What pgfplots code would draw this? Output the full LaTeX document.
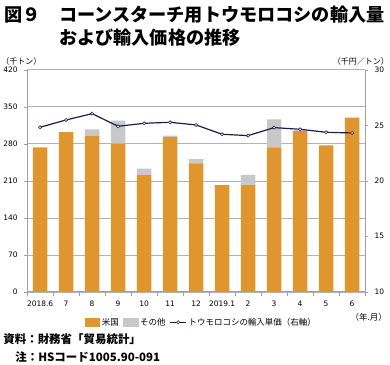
\documentclass[border=0pt]{standalone}
\usepackage{pgfplots}
\pgfplotsset{compat=1.18}
\usepackage{fontspec}
\setmainfont{Noto Sans CJK JP}
\newfontfamily\numfont{DejaVu Sans}
\definecolor{usor}{HTML}{E0962E}
\definecolor{othg}{HTML}{C8C8CA}
\definecolor{lnav}{HTML}{1E1E45}
\definecolor{axg}{HTML}{A0A0A0}
\begin{document}
\begin{tikzpicture}
\path (0pt,0pt) rectangle (390pt,366pt);
\node[anchor=west,inner sep=0pt,font=\fontsize{18.2}{18}\selectfont\bfseries] at (3pt,351pt) {図９};
\node[anchor=west,inner sep=0pt,font=\fontsize{18.2}{18}\selectfont\bfseries] at (58pt,351pt) {コーンスターチ用トウモロコシの輸入量};
\node[anchor=west,inner sep=0pt,font=\fontsize{18.2}{18}\selectfont\bfseries] at (58pt,328pt) {および輸入価格の推移};
\node[anchor=west,font=\fontsize{8}{8}\selectfont,inner sep=0pt] at (0pt,304pt) {（千トン）};
\node[anchor=east,font=\fontsize{8}{8}\selectfont,inner sep=0pt] at (389pt,304pt) {（千円／トン）};
\node[anchor=east,font=\fontsize{8.5}{8}\selectfont,inner sep=0pt] at (387pt,48pt) {（年.月）};
\node[anchor=west,font=\fontsize{11.5}{12}\selectfont\bfseries,inner sep=0pt] at (2pt,26pt) {資料：財務省「貿易統計」};
\node[anchor=west,font=\fontsize{11.5}{12}\selectfont\bfseries,inner sep=0pt] at (14pt,8pt) {注：HSコード1005.90-091};
\begin{axis}[
  at={(26pt,73.3pt)}, anchor=south west,
  scale only axis, width=339pt, height=222.7pt,
  xmin=-0.5, xmax=12.5, ymin=0, ymax=420,
  ytick={0,70,140,210,280,350,420},
  xtick={0,...,12},
  xticklabels={2018.6,7,8,9,10,11,12,2019.1,2,3,4,5,6},
  major x tick style={draw=none},
  minor xtick={-0.5,0.5,...,12.5},
  minor x tick style={draw=axg},
  minor tick length=4pt,
  axis x line*=bottom, axis y line*=left,
  axis line style={draw=axg, line width=0.8pt, -},
  y tick style={draw=axg},
  tick align=outside, major tick length=3pt,
  ymajorgrids, grid style={draw=axg!80, line width=0.6pt},
  ybar stacked, bar width=14.7pt,
  ticklabel style={font=\numfont\fontsize{7.5}{8}\selectfont},
  xticklabel style={yshift=-3pt},
  yticklabel style={xshift=-3pt},
  /pgf/number format/assume math mode=true,
]
\addplot[fill=usor, draw=none] coordinates {(0,273) (1,302) (2,295.6) (3,280.5) (4,220.7) (5,292.5) (6,243) (7,202) (8,202) (9,273) (10,304) (11,277) (12,329.6)};
\addplot[fill=othg, draw=none] coordinates {(0,0) (1,0) (2,11.9) (3,43.5) (4,12.3) (5,3.1) (6,8) (7,0) (8,19) (9,53) (10,1.5) (11,0) (12,0)};
\end{axis}
\begin{axis}[
  at={(26pt,73.3pt)}, anchor=south west,
  scale only axis, width=339pt, height=222.7pt,
  xmin=-0.5, xmax=12.5, ymin=10, ymax=30,
  ytick={10,15,20,25,30},
  axis x line=none, axis y line*=right,
  axis line style={draw=axg, line width=0.8pt, -},
  y tick style={draw=axg},
  tick align=outside, major tick length=3pt,
  ticklabel style={font=\numfont\fontsize{7.5}{8}\selectfont},
  yticklabel style={xshift=3pt},
  /pgf/number format/assume math mode=true,
  legend style={at={(0.515,-0.137)}, anchor=center, draw=none, fill=none,
    font=\fontsize{8.5}{8}\selectfont, legend columns=3,
    /tikz/every odd column/.append style={column sep=0pt},
    /tikz/every even column/.append style={column sep=2pt},
    legend cell align=left},
  legend image code/.code={},
  clip=false,
]
\addlegendimage{legend image code/.code={\fill[usor] (0pt,-4pt) rectangle (15pt,4pt);}}
\addlegendentry{米国}
\addlegendimage{legend image code/.code={\fill[othg] (0pt,-4pt) rectangle (15pt,4pt);}}
\addlegendentry{その他}
\addplot[color=lnav, line width=1.2pt, mark=*, mark size=1.6pt, mark options={fill=white, draw=lnav, line width=0.6pt},
  legend image code/.code={\draw[lnav, line width=1.2pt] (0pt,0pt) -- (16pt,0pt); \draw[lnav, fill=white, line width=0.6pt] (8pt,0pt) circle (1.6pt);}] coordinates {(0,24.82) (1,25.48) (2,26.05) (3,24.91) (4,25.18) (5,25.27) (6,25.03) (7,24.19) (8,24.07) (9,24.79) (10,24.64) (11,24.37) (12,24.31)};
\addlegendentry{トウモロコシの輸入単価（右軸）}
\end{axis}
\end{tikzpicture}
\end{document}
